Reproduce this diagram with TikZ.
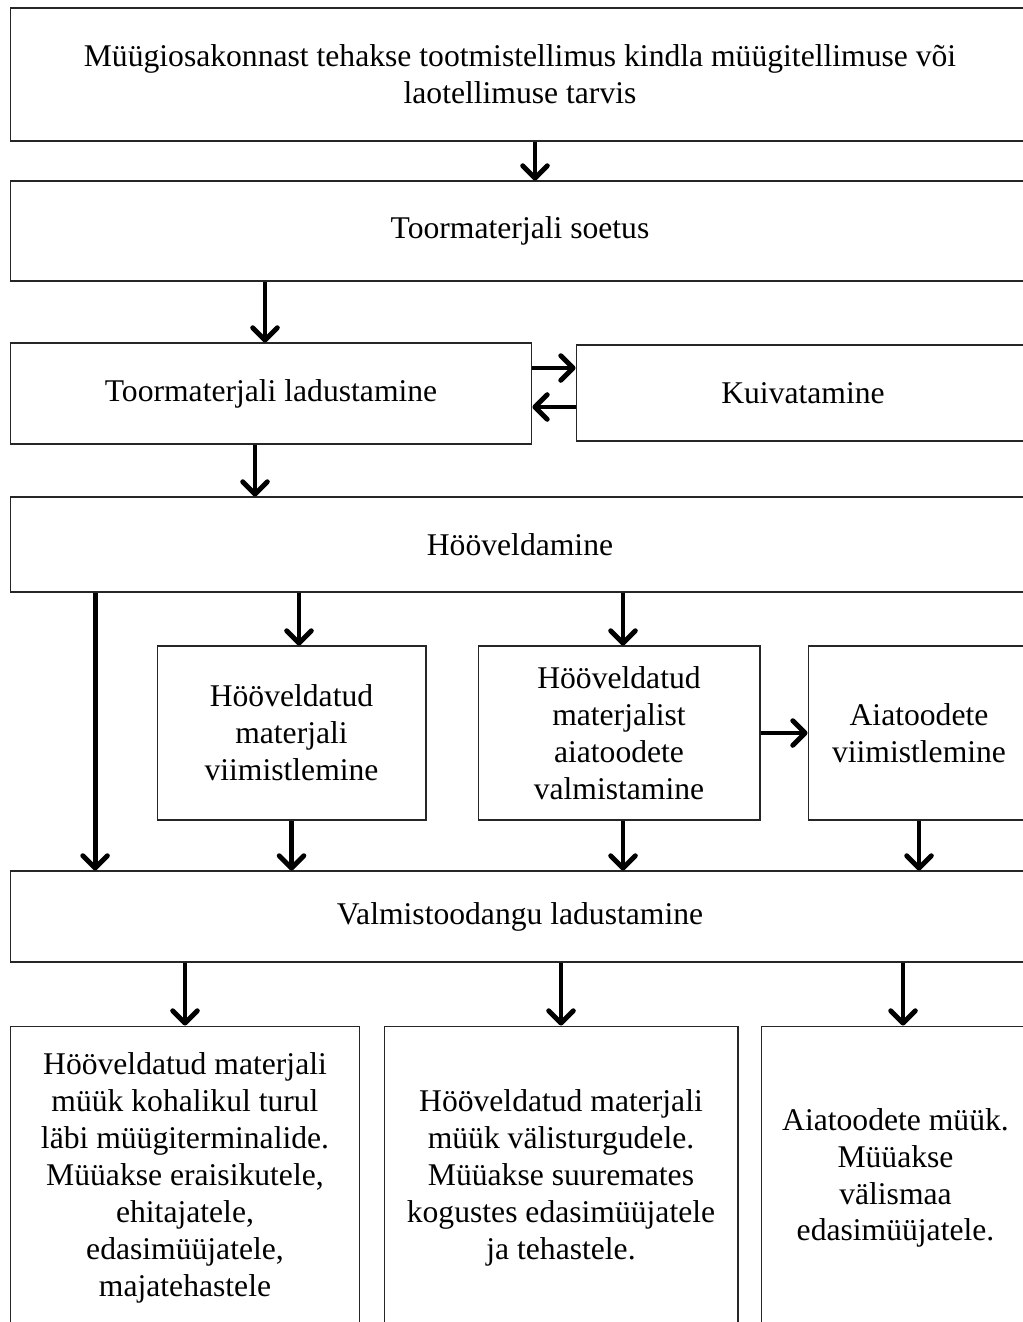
\documentclass[tikz,border=0pt]{standalone}
\usepackage{fontspec}
\setmainfont{Liberation Serif}
\usepackage{tikz}
\usetikzlibrary{arrows.meta, positioning, calc}
\tikzstyle{box} = [rectangle,
draw=black!85,
line width=0.6pt,
align=center,
inner sep=0pt,
font=\fontsize{18}{21}\selectfont]
\tikzstyle{arrow} = [line width=2.8pt,-{Straight Barb[length=7pt,width=14pt,round]}]

\begin{document}
\begin{tikzpicture}[x=0.02cm, y=-0.02cm]
            \useasboundingbox (0,0) rectangle (1023,1322);
            \clip (0,0) rectangle (1023,1322);
            \node (tell) [box, minimum width=20.4cm, minimum height=2.66cm] at (520,74.5) {Müügiosakonnast tehakse tootmistellimus kindla müügitellimuse või\\laotellimuse tarvis};
            \node (soet) [box, minimum width=20.4cm, minimum height=2.0cm] at (520,231) {Toormaterjali soetus};
            \node (lad) [box, minimum width=10.44cm, minimum height=2.02cm] at (271,393.5) {Toormaterjali ladustamine};
            \node (kuiv) [box, minimum width=9.08cm, minimum height=1.92cm] at (803,393) {Kuivatamine};
            \node (hoov) [box, minimum width=20.4cm, minimum height=1.9cm] at (520,544.5) {Hööveldamine};
            \node (viim) [box, minimum width=5.38cm, minimum height=3.48cm] at (291.5,733) {Hööveldatud\\materjali\\viimistlemine};
            \node (aia) [box, minimum width=5.64cm, minimum height=3.48cm] at (619,733) {Hööveldatud\\materjalist\\aiatoodete\\valmistamine};
            \node (aiav) [box, minimum width=4.44cm, minimum height=3.48cm] at (919,733) {Aiatoodete\\viimistlemine};
            \node (valm) [box, minimum width=20.4cm, minimum height=1.82cm] at (520,916.5) {Valmistoodangu ladustamine};
            \node (kohal) [box, minimum width=7.0cm, minimum height=6.08cm] at (185,1178) {Hööveldatud materjali\\müük kohalikul turul\\läbi müügiterminalide.\\Müüakse eraisikutele,\\ehitajatele,\\edasimüüjatele,\\majatehastele};
            \node (valis) [box, minimum width=7.08cm, minimum height=6.08cm] at (561,1178) {Hööveldatud materjali\\müük välisturgudele.\\Müüakse suuremates\\kogustes edasimüüjatele\\ja tehastele.};
            \node (aiam) [box, minimum width=5.38cm, minimum height=6.08cm] at (895.5,1178) {Aiatoodete müük.\\Müüakse\\välismaa\\edasimüüjatele.};

            \draw [arrow] ([xshift=0.3cm]tell.south) -- ([xshift=0.3cm]soet.north);
            \draw [arrow] ([xshift=-0.12cm]soet.south -| lad.north) -- ([xshift=-0.12cm]lad.north);
            \draw [arrow] ([yshift=0.51cm]lad.east) -- ([yshift=0.51cm]lad.east -| kuiv.west);
            \draw [arrow] ([yshift=-0.27cm]lad.east -| kuiv.west) -- ([yshift=-0.27cm]lad.east);
            \draw [arrow] ([xshift=-0.32cm]lad.south) -- ([xshift=-0.32cm]lad.south |- hoov.north);
            \draw [arrow] ([xshift=-8.5cm]hoov.south) -- ([xshift=-8.5cm]valm.north);
            \draw [arrow] ([xshift=0.15cm]hoov.south -| viim.north) -- ([xshift=0.15cm]viim.north);
            \draw [arrow] ([xshift=0.08cm]hoov.south -| aia.north) -- ([xshift=0.08cm]aia.north);
            \draw [arrow] (aia.east) -- (aiav.west);
            \draw [arrow] (viim.south) -- (viim.south |- valm.north);
            \draw [arrow] ([xshift=0.08cm]aia.south) -- ([xshift=0.08cm]aia.south |- valm.north);
            \draw [arrow] (aiav.south) -- (aiav.south |- valm.north);
            \draw [arrow] (valm.south -| kohal.north) -- (kohal.north);
            \draw [arrow] (valm.south -| valis.north) -- (valis.north);
            \draw [arrow] ([xshift=0.15cm]valm.south -| aiam.north) -- ([xshift=0.15cm]aiam.north);
        \end{tikzpicture}
\end{document}
